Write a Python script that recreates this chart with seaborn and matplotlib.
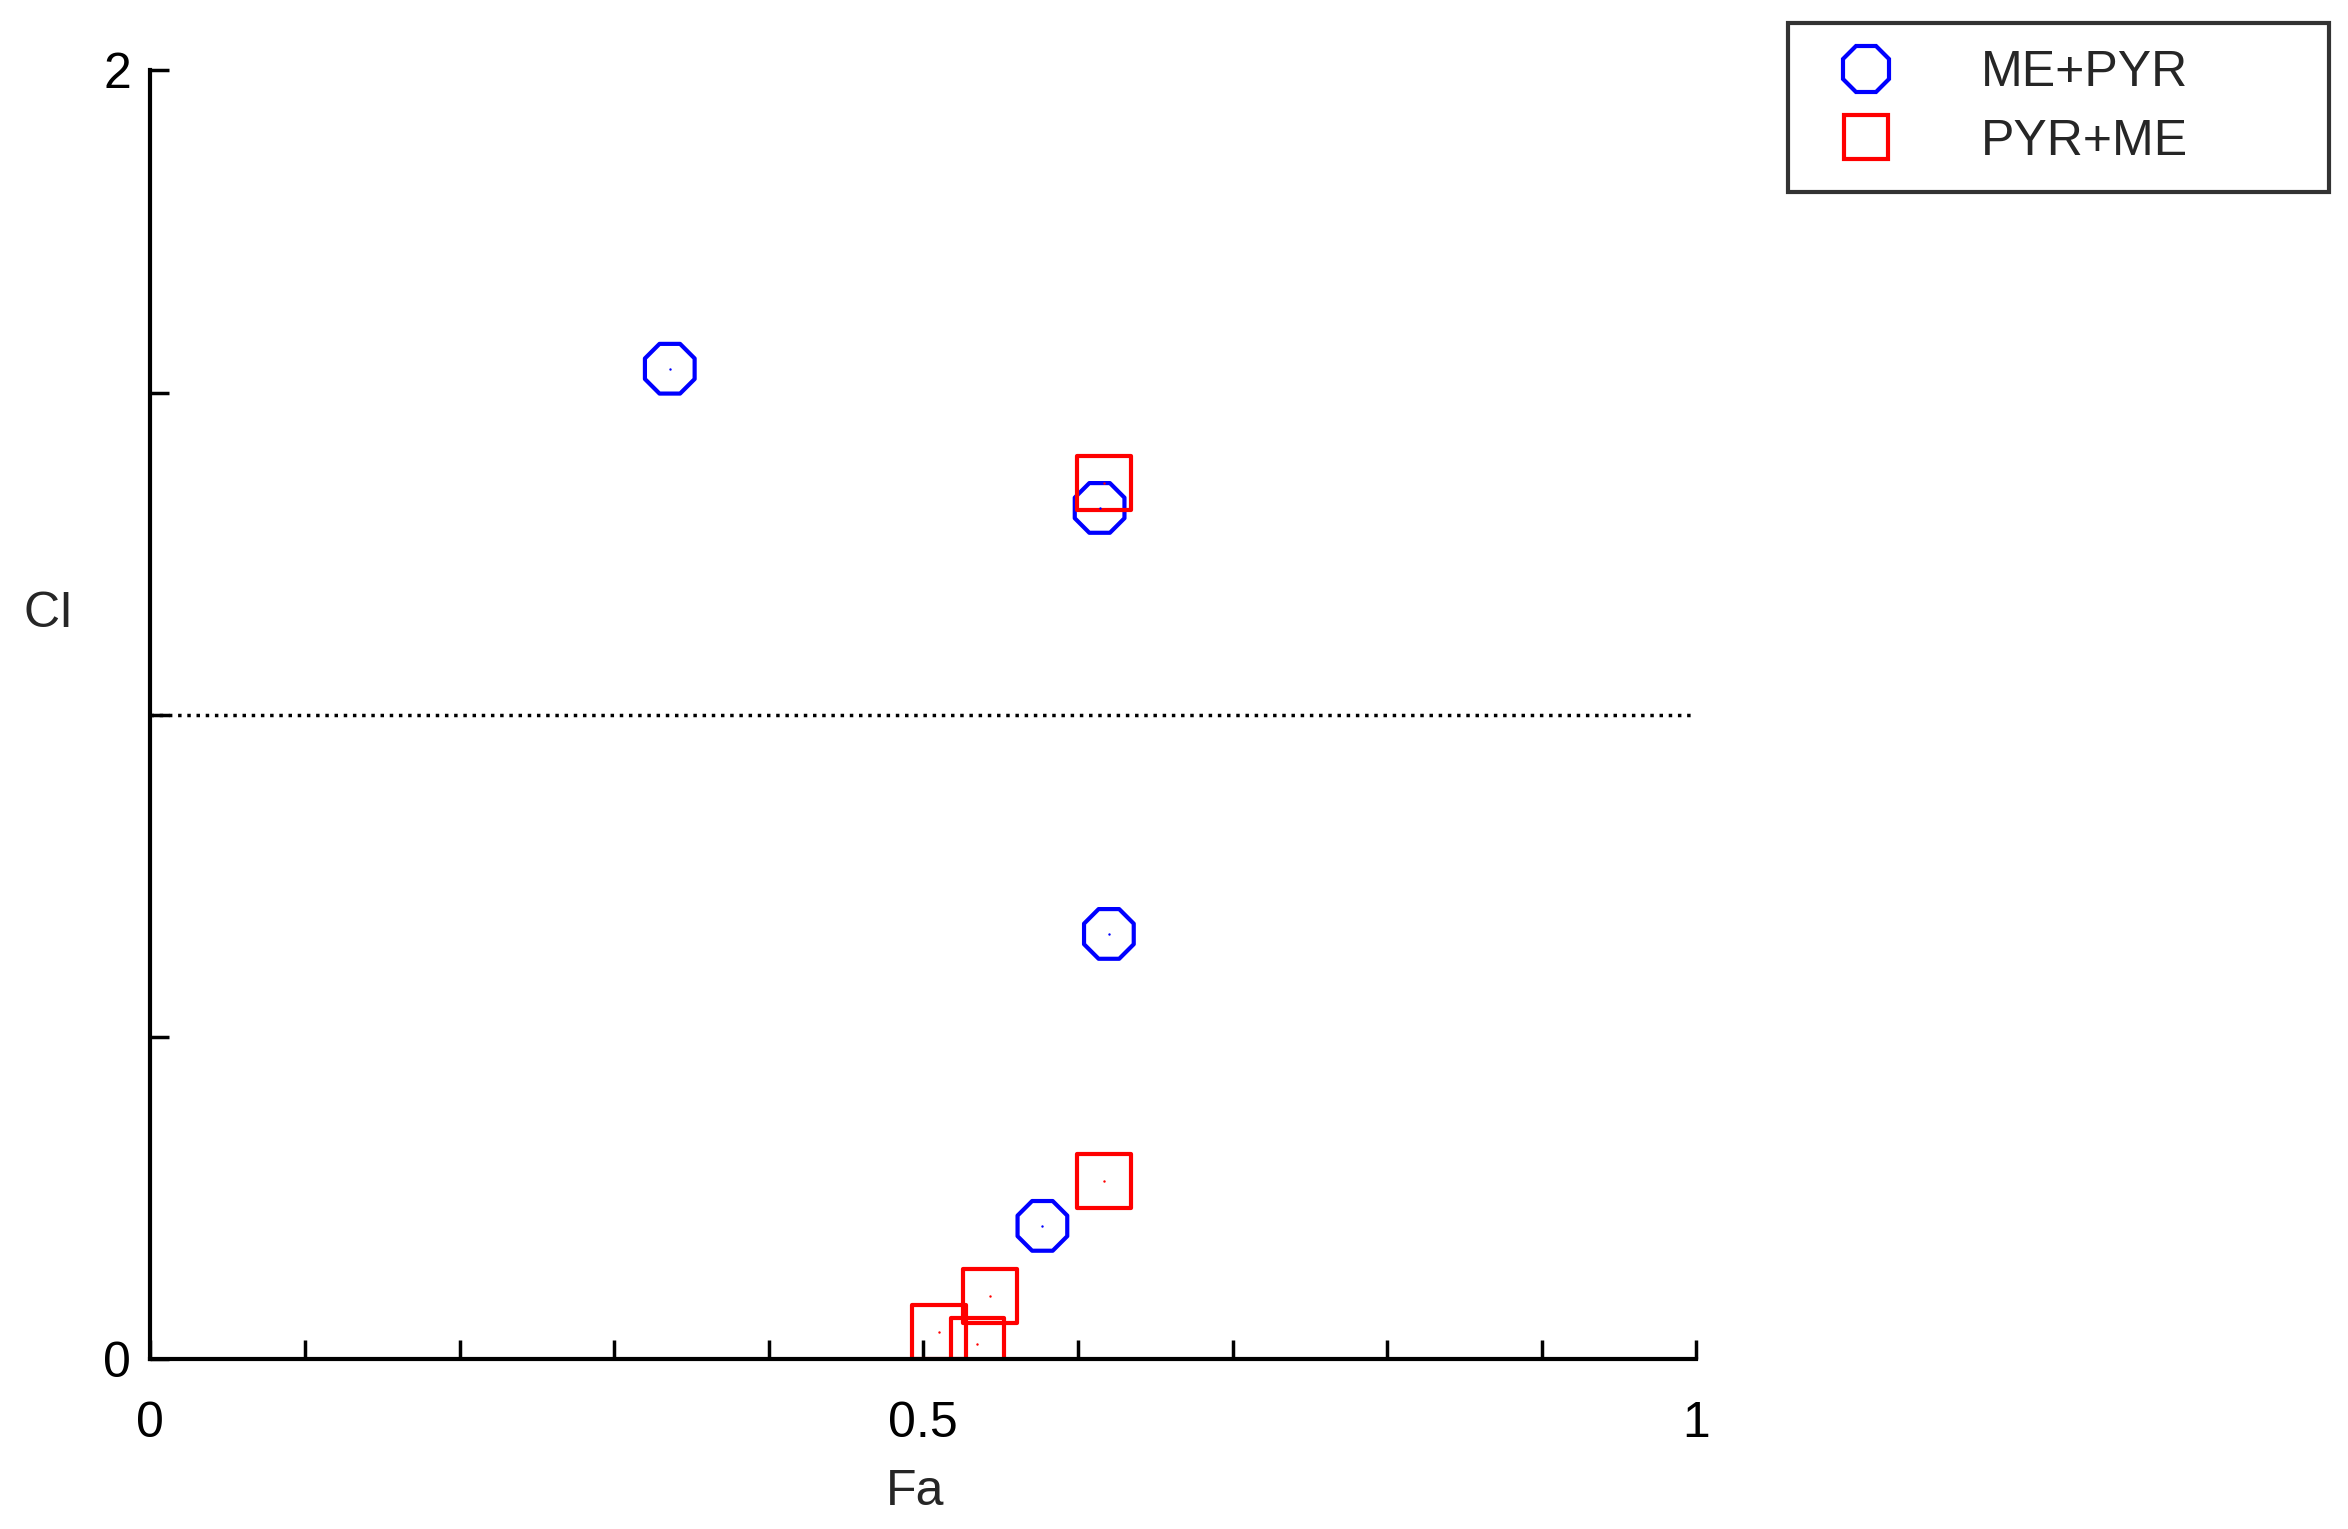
import numpy as np
import matplotlib
matplotlib.use("Agg")
import matplotlib.pyplot as plt
import seaborn as sns
from matplotlib.lines import Line2D

# data
me_pyr_fa = [0.336, 0.614, 0.620, 0.577]
me_pyr_ci = [1.537, 1.321, 0.660, 0.207]
pyr_me_fa = [0.617, 0.617, 0.543, 0.510, 0.535]
pyr_me_ci = [1.360, 0.277, 0.098, 0.042, 0.023]

sns.set_style("white")
plt.rcParams['font.family'] = ['Liberation Sans', 'DejaVu Sans']

fig = plt.figure(figsize=(23.48, 15.29), dpi=100)
ax = fig.add_axes([0.064, 0.111, 0.6585, 0.843])

sns.scatterplot(x=me_pyr_fa, y=me_pyr_ci, marker="8", s=1500, ax=ax,
                facecolor="none", edgecolor="blue", linewidth=3)
sns.scatterplot(x=pyr_me_fa, y=pyr_me_ci, marker="s", s=1500, ax=ax,
                facecolor="none", edgecolor="red", linewidth=3)
# the small centre dots
ax.scatter(me_pyr_fa, me_pyr_ci, s=12, c="blue", marker=".", linewidths=0)
ax.scatter(pyr_me_fa, pyr_me_ci, s=12, c="red", marker=".", linewidths=0)

ax.axhline(1, color="black", linestyle=":", linewidth=2.5)

ax.set_xlim(0, 1)
ax.set_ylim(0, 2)
ax.set_xticks(np.arange(0, 1.01, 0.1))
ax.set_xticklabels(["0", "", "", "", "", "0.5", "", "", "", "", "1"])
ax.set_yticks([0, 0.5, 1, 1.5, 2])
ax.set_yticklabels(["0", "", "", "", "2"])
ax.tick_params(direction="in", length=14, width=2.5, labelsize=36,
               bottom=True, left=True, colors="black")
ax.tick_params(axis="x", pad=30)
ax.tick_params(axis="y", pad=14)
ax.set_xlabel("Fa", fontsize=36)
ax.xaxis.set_label_coords(0.495, -0.085)
ax.set_ylabel("CI", fontsize=36, rotation=0)
ax.yaxis.set_label_coords(-0.066, 0.56)
for s in ["top", "right"]:
    ax.spines[s].set_visible(False)
for s in ["left", "bottom"]:
    ax.spines[s].set_linewidth(3)
    ax.spines[s].set_color("black")

handles = [
    Line2D([], [], marker="8", color="blue", markerfacecolor="none", markersize=36, linestyle="none", markeredgewidth=3),
    Line2D([], [], marker="s", color="red", markerfacecolor="none", markersize=32, linestyle="none", markeredgewidth=3),
]
leg = fig.legend(handles, ["ME+PYR", "PYR+ME"], loc="upper left",
                 bbox_to_anchor=(0.7615, 0.845, 0.2302, 0.14), mode="expand",
                 fontsize=36, frameon=True, fancybox=False, edgecolor="black",
                 borderpad=0.55, handletextpad=1.3, labelspacing=0.45, borderaxespad=0)
leg.get_frame().set_linewidth(3)

fig.savefig("out.png", dpi=100, facecolor="white")
